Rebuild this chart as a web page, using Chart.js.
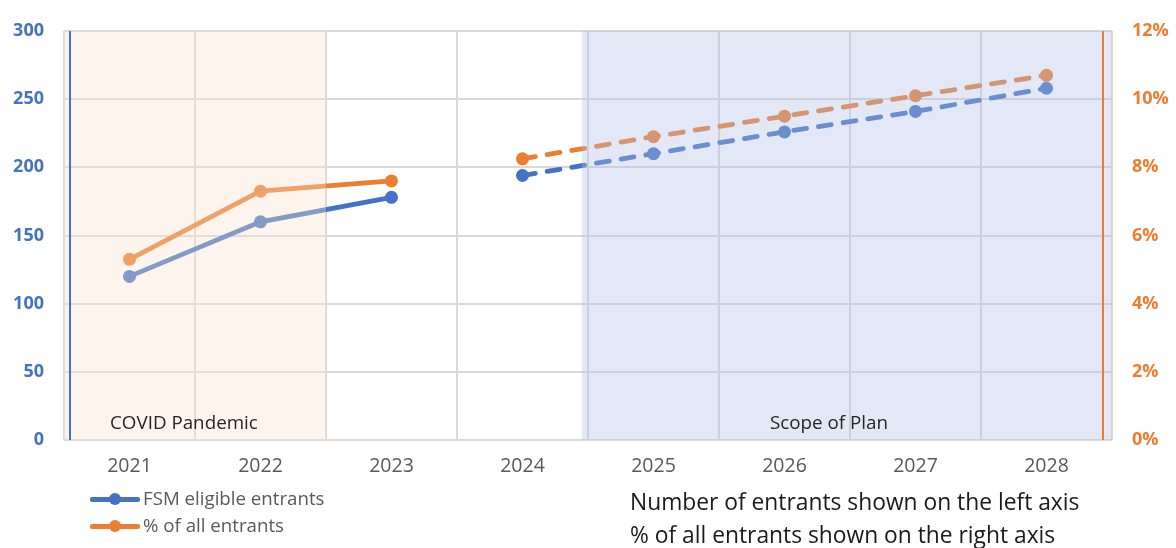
<!DOCTYPE html>
<html>
<head>
<meta charset="utf-8">
<script src="https://cdn.jsdelivr.net/npm/chart.js@4/dist/chart.umd.min.js"></script>
<style>
  html, body { margin: 0; padding: 0; background: #ffffff; }
  #wrap { position: relative; width: 1176px; height: 548px; overflow: hidden; background: #ffffff; }
  #chart { position: absolute; left: 0; top: 0; }
  .leg { position: absolute; left: 90px; height: 20px; font-family: "Open Sans", sans-serif; font-size: 18.7px; color: #595959; }
  .leg .ln { position: absolute; left: 0; top: 8px; width: 50px; height: 4.5px; border-radius: 2px; }
  .leg .dt { position: absolute; left: 19px; top: 4px; width: 12px; height: 12px; border-radius: 50%; }
  .leg .tx { position: absolute; left: 53px; top: -3px; white-space: nowrap; line-height: 24px; }
  #notes { position: absolute; left: 630px; top: 485px; font-family: "Open Sans", sans-serif; font-size: 22.8px; line-height: 33px; color: #1a1a1a; white-space: nowrap; }
</style>
</head>
<body>
<div id="wrap">
  <canvas id="chart" width="1176" height="548"></canvas>
  <div class="leg" id="leg0" style="top:489px;"><div class="ln"></div><div class="dt"></div><div class="tx"></div></div>
  <div class="leg" id="leg1" style="top:516px;"><div class="ln"></div><div class="dt"></div><div class="tx"></div></div>
  <div id="notes"></div>
</div>
<script>
// ---- data ----
const years = ['2021', '2022', '2023', '2024', '2025', '2026', '2027', '2028'];
const fsmEntrants = [120, 160, 178, 194, 210, 226, 241, 258];
const pctOfEntrants = [5.3, 7.3, 7.6, 8.25, 8.9, 9.5, 10.1, 10.7];
const seriesNames = ['FSM eligible entrants', '% of all entrants'];
const leftTicks = [0, 50, 100, 150, 200, 250, 300];
const rightTicks = [0, 2, 4, 6, 8, 10, 12];
const actualLastIndex = 2;      // 2023: last actual value (solid)
const projectionFirstIndex = 3; // 2024: first projected value (dashed)
const periods = [
  { label: 'COVID Pandemic', from: '2021', to: '2022' },
  { label: 'Scope of Plan', from: '2025', to: '2028' }
];
const axisNotes = ['Number of entrants shown on the left axis', '% of all entrants shown on the right axis'];

const BLUE = '#4472C4';
const ORANGE = '#ED7D31';
const GRID = '#d9d9d9';

// legend + notes (real text)
[[BLUE, 0], [ORANGE, 1]].forEach(([c, i]) => {
  const el = document.getElementById('leg' + i);
  el.querySelector('.ln').style.background = c;
  el.querySelector('.dt').style.background = c;
  el.querySelector('.tx').textContent = seriesNames[i];
});
document.getElementById('notes').innerHTML = axisNotes.map(t => '<div>' + t + '</div>').join('');

const segStyle = {
  borderColor: ctx => ctx.p0DataIndex === actualLastIndex ? 'rgba(0,0,0,0)' : undefined,
  borderDash: ctx => ctx.p0DataIndex >= projectionFirstIndex ? [13, 12] : undefined
};

const overlayPlugin = {
  id: 'periods',
  afterDatasetsDraw(chart) {
    const ctx = chart.ctx;
    const xs = chart.scales.x;
    const ca = chart.chartArea;
    const band = xs.getPixelForValue(1) - xs.getPixelForValue(0);
    const fills = ['rgba(246,224,206,0.36)', 'rgba(175,192,229,0.36)'];
    const labelOffsets = [46, 188];
    ctx.save();
    periods.forEach((p, k) => {
      let x0 = xs.getPixelForValue(years.indexOf(p.from)) - band / 2;
      const x1 = xs.getPixelForValue(years.indexOf(p.to)) + band / 2;
      if (k === 1) x0 -= 6;
      ctx.fillStyle = fills[k];
      ctx.fillRect(x0, ca.top, x1 - x0, ca.bottom - ca.top);
      ctx.fillStyle = '#262626';
      ctx.font = '18.8px "Open Sans", sans-serif';
      ctx.textAlign = 'left';
      ctx.textBaseline = 'middle';
      ctx.fillText(p.label, x0 + labelOffsets[k], ca.bottom - 16);
    });
    // axis-coloured vertical rules
    ctx.lineWidth = 2;
    ctx.strokeStyle = BLUE;
    ctx.beginPath();
    ctx.moveTo(ca.left + 6, ca.top);
    ctx.lineTo(ca.left + 6, ca.bottom);
    ctx.stroke();
    ctx.strokeStyle = ORANGE;
    ctx.beginPath();
    ctx.moveTo(ca.right - 9, ca.top);
    ctx.lineTo(ca.right - 9, ca.bottom);
    ctx.stroke();
    ctx.restore();
  }
};

new Chart(document.getElementById('chart'), {
  type: 'line',
  data: {
    labels: years,
    datasets: [
      {
        label: seriesNames[0],
        data: fsmEntrants,
        yAxisID: 'y',
        borderColor: BLUE,
        backgroundColor: BLUE,
        borderWidth: 4.8,
        borderCapStyle: 'round',
        pointRadius: 6.5,
        pointHoverRadius: 6.5,
        pointBorderWidth: 0,
        pointBackgroundColor: BLUE,
        tension: 0,
        segment: segStyle
      },
      {
        label: seriesNames[1],
        data: pctOfEntrants,
        yAxisID: 'y1',
        borderColor: ORANGE,
        backgroundColor: ORANGE,
        borderWidth: 4.8,
        borderCapStyle: 'round',
        pointRadius: 6.5,
        pointHoverRadius: 6.5,
        pointBorderWidth: 0,
        pointBackgroundColor: ORANGE,
        tension: 0,
        segment: segStyle
      }
    ]
  },
  options: {
    responsive: false,
    animation: false,
    devicePixelRatio: 1,
    layout: { padding: { top: 31, left: 0, right: 0, bottom: 0 } },
    plugins: {
      legend: { display: false },
      tooltip: { enabled: false }
    },
    scales: {
      x: {
        type: 'category',
        offset: true,
        grid: { offset: true, color: GRID, lineWidth: 2, drawTicks: false },
        border: { display: false },
        ticks: { color: '#595959', font: { family: 'Open Sans', size: 19.5 }, padding: 15, maxRotation: 0 },
        afterFit: s => { s.height = 108; }
      },
      y: {
        position: 'left',
        min: leftTicks[0],
        max: leftTicks[leftTicks.length - 1],
        afterBuildTicks: s => { s.ticks = leftTicks.map(v => ({ value: v })); },
        grid: { color: GRID, lineWidth: 2, drawTicks: false },
        border: { display: false },
        ticks: { color: BLUE, font: { family: 'Open Sans', size: 18, weight: 'bold' }, padding: 20 },
        afterFit: s => { s.width = 64; }
      },
      y1: {
        position: 'right',
        min: rightTicks[0],
        max: rightTicks[rightTicks.length - 1],
        afterBuildTicks: s => { s.ticks = rightTicks.map(v => ({ value: v })); },
        grid: { drawOnChartArea: false, drawTicks: false },
        border: { display: false },
        ticks: { color: ORANGE, font: { family: 'Open Sans', size: 18, weight: 'bold' }, padding: 20, callback: v => v + '%' },
        afterFit: s => { s.width = 64; }
      }
    }
  },
  plugins: [overlayPlugin]
});
</script>
</body>
</html>
